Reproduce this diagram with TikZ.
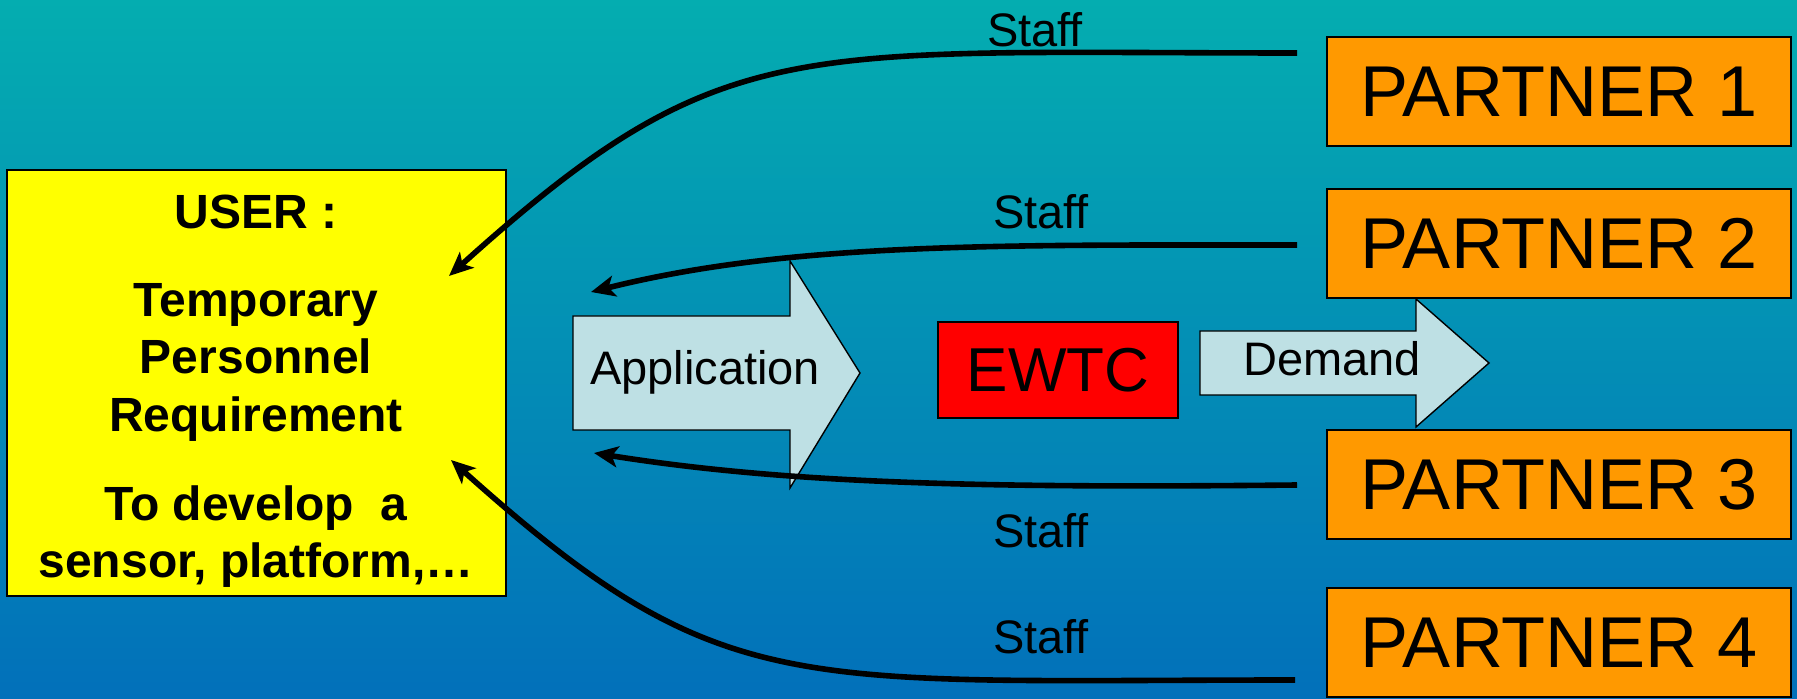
\documentclass[tikz,border=0pt]{standalone}
\usepackage{fontspec}
\setmainfont{Liberation Sans}
\usetikzlibrary{arrows.meta}
\definecolor{bgtop}{RGB}{4,173,176}
\definecolor{bgbot}{RGB}{2,112,186}
\definecolor{userfill}{RGB}{255,255,0}
\definecolor{partfill}{RGB}{255,153,0}
\definecolor{ewtcfill}{RGB}{255,0,0}
\definecolor{arrfill}{RGB}{190,224,228}
\tikzset{
  boxbase/.style={draw=black, line width=0.8pt, inner sep=0pt, outer sep=0pt},
  userbox/.style={boxbase, fill=userfill, minimum width=249.5pt, minimum height=213pt},
  partbox/.style={boxbase, fill=partfill, minimum width=232pt, minimum height=54.5pt,
    font=\fontsize{36}{40}\selectfont},
  ewtcbox/.style={boxbase, fill=ewtcfill, minimum width=120pt, minimum height=48pt,
    font=\fontsize{31}{34}\selectfont},
  usertxt/.style={font=\bfseries\fontsize{24}{28}\selectfont, anchor=base, inner sep=0pt},
  lbl/.style={font=\fontsize{23.5}{26}\selectfont, anchor=base, inner sep=0pt},
  bigarrow/.style={draw=black, line width=0.7pt, fill=arrfill, line join=miter},
  conn/.style={draw=black, line width=2.8pt, -{Stealth[length=12pt, width=10.5pt, inset=3pt]}}
}
\begin{document}
\begin{tikzpicture}[x=0.5pt, y=-0.5pt]
\shade[top color=bgtop, bottom color=bgbot] (0,0) rectangle (1797,699);
\useasboundingbox (0,0) rectangle (1797,699);

% user box
\node[userbox] (user) at (256.5,383) {};
\node[usertxt] (u1) at (256,229) {USER :};
\node[usertxt] (u2) at (256,317) {Temporary};
\node[usertxt] (u3) at (256,373.5) {Personnel};
\node[usertxt] (u4) at (256,432) {Requirement};
\node[usertxt] (u5) at (256,520) {To develop\ \ a};
\node[usertxt] (u6) at (256,577) {sensor, platform,\ldots};

% partner boxes
\node[partbox] (p1) at (1559,91.5) {PARTNER 1};
\node[partbox] (p2) at (1559,243.5) {PARTNER 2};
\node[partbox] (p3) at (1559,484.5) {PARTNER 3};
\node[partbox] (p4) at (1559,642.5) {PARTNER 4};

% EWTC
\node[ewtcbox] (ewtc) at (1058,370) {EWTC};

% Application arrow
\path[bigarrow] (573,316) -- (790,316) -- (790,261) -- (860,373) -- (790,488) -- (790,430) -- (573,430) -- cycle;
\node[lbl] (app) at (705,385) {Application};

% Demand arrow
\path[bigarrow] (1200,331) -- (1416,331) -- (1416,299) -- (1489,363) -- (1416,427) -- (1416,395) -- (1200,395) -- cycle;
\node[lbl] (dem) at (1332,376) {Demand};

% connector endpoints
\coordinate (s1) at (1297,53);
\coordinate (e1) at (449,276);
\coordinate (s2) at (1297,245);
\coordinate (e2) at (591,292);
\coordinate (s3) at (1297,485);
\coordinate (e3) at (594,453);
\coordinate (s4) at (1295,680);
\coordinate (e4) at (451,460);

\draw[conn] (s1) .. controls (790,53) and (722,30) .. (e1);
\draw[conn] (s2) .. controls (1000,245) and (791,242) .. (e2);
\draw[conn] (s3) .. controls (1000,488) and (794,485) .. (e3);
\draw[conn] (s4) .. controls (790,680) and (722,703) .. (e4);

% Staff labels
\node[lbl] (st1) at (1035,47) {Staff};
\node[lbl] (st2) at (1041,229) {Staff};
\node[lbl] (st3) at (1041,547) {Staff};
\node[lbl] (st4) at (1041,653) {Staff};
\end{tikzpicture}
\end{document}
